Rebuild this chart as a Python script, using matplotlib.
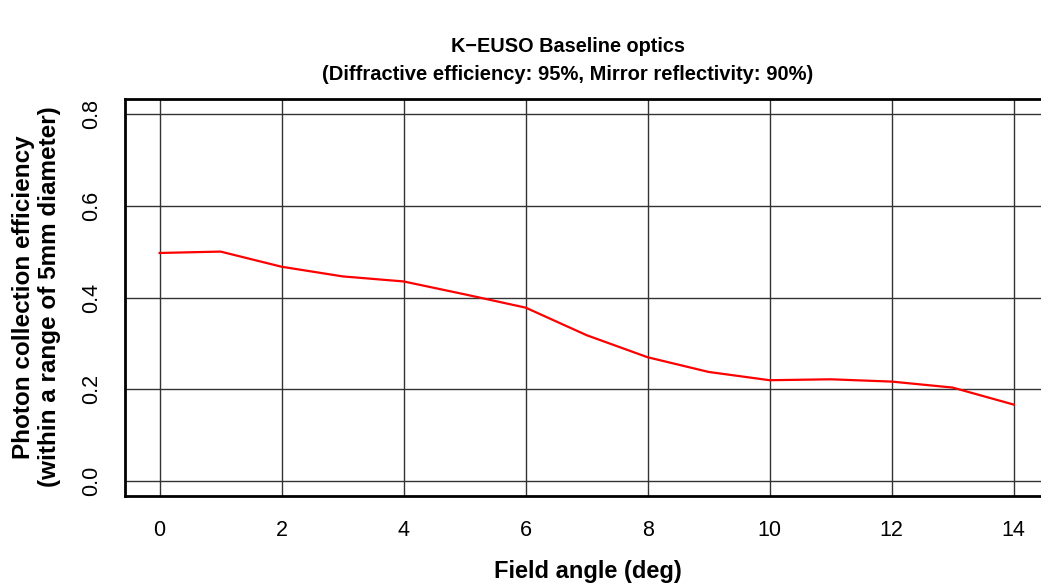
import matplotlib
matplotlib.use("Agg")
import matplotlib.pyplot as plt

# field angle (deg) and photon collection efficiency
field_angle = [0, 1, 2, 3, 4, 5, 6, 7, 8, 9, 10, 11, 12, 13, 14]
efficiency = [0.497, 0.500, 0.467, 0.446, 0.435, 0.407, 0.378, 0.318, 0.270,
              0.238, 0.220, 0.222, 0.217, 0.204, 0.167]
x_ticks = [0, 2, 4, 6, 8, 10, 12, 14]
y_ticks = [0.0, 0.2, 0.4, 0.6, 0.8]

plt.rcParams['font.family'] = ['Liberation Sans', 'DejaVu Sans']

W, H = 1041, 588
fig = plt.figure(figsize=(W / 100, H / 100), dpi=100)
ax = fig.add_axes([0.1205, 0.1565, 0.886, 0.675])

for xv in x_ticks:
    ax.axvline(xv, color='#333333', lw=1.0, zorder=1)
for yv in y_ticks:
    ax.axhline(yv, color='#333333', lw=1.0, zorder=1)

ax.plot(field_angle, efficiency, color='red', lw=1.6, zorder=3)

ax.set_xlim(-0.56, 14.56)
ax.set_ylim(-0.032, 0.832)
ax.set_xticks(x_ticks)
ax.set_xticklabels([str(v) for v in x_ticks])
ax.set_yticks(y_ticks)
ax.set_yticklabels([f"{v:.1f}" for v in y_ticks], rotation=90, va='center')
ax.tick_params(length=0, labelsize=15.5)
ax.tick_params(axis='x', pad=17)
ax.tick_params(axis='y', pad=17)

for s in ax.spines.values():
    s.set_linewidth(2.0)
    s.set_color('black')

# axis labels placed in figure pixels
fig.text(588 / W, 1 - 578 / H, "Field angle (deg)", ha='center', va='baseline',
         fontsize=17, fontweight='bold')
fig.text(24 / W, 1 - 297 / H, "Photon collection efficiency", ha='center', va='center',
         rotation=90, fontsize=17.5, fontweight='bold')
fig.text(50 / W, 1 - 297 / H, "(within a range of 5mm diameter)", ha='center', va='center',
         rotation=90, fontsize=17.5, fontweight='bold')

fig.text(568 / W, 1 - 47 / H, "K\u2212EUSO Baseline optics", ha='center', va='center',
         fontsize=14.3, fontweight='bold')
fig.text(568 / W, 1 - 75 / H, "(Diffractive efficiency: 95%, Mirror reflectivity: 90%)",
         ha='center', va='center', fontsize=14.5, fontweight='bold')

fig.savefig("out.png", dpi=100)
